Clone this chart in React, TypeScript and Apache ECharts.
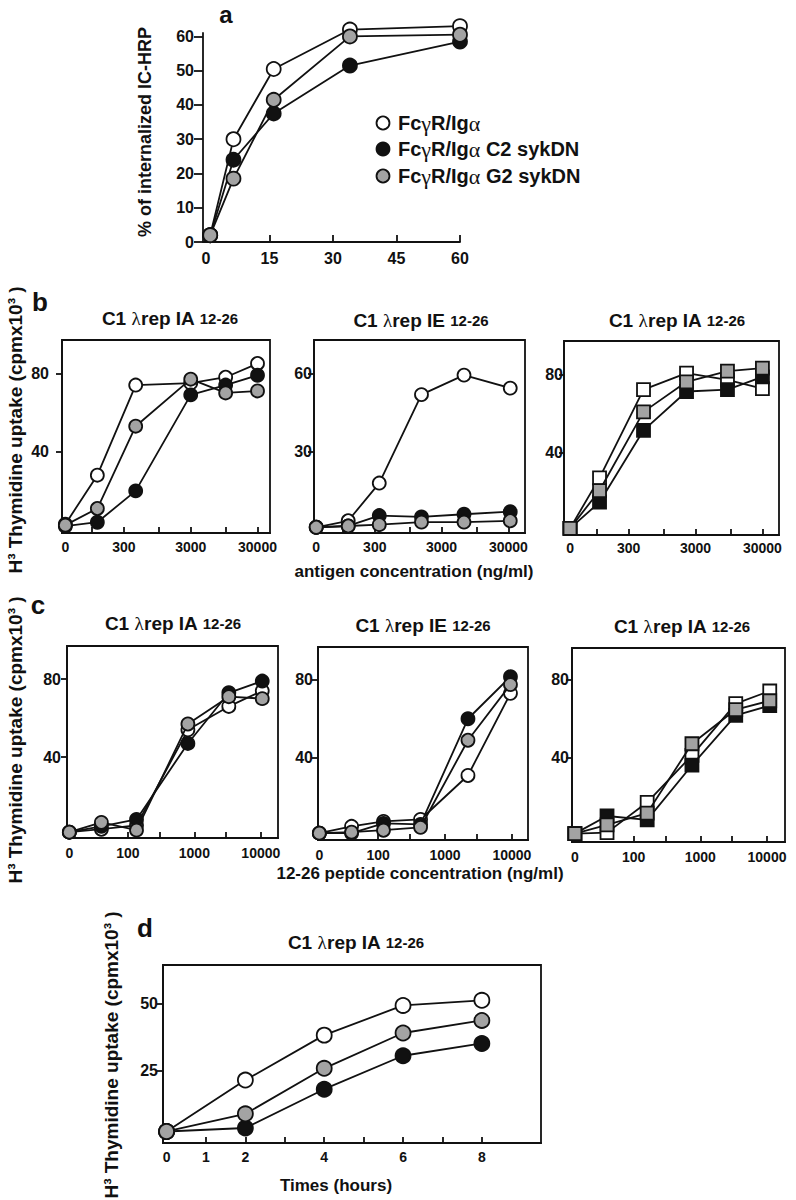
import React, { useEffect, useRef } from 'react';
import * as echarts from 'echarts';

const FONT = '"Liberation Sans", Arial, Helvetica, sans-serif';
const SERIF = '"Liberation Serif", "DejaVu Serif", serif';
const INK = '#111111';
const WHITE = '#ffffff';
const GREY = '#a3a3a3';

// ---- panel a : internalisation (minutes) ----
const A_MINUTES = [1, 6.5, 16, 34, 60];
const A_WT = [2, 30, 50.5, 62, 63];
const A_C2 = [2, 24, 37.5, 51.5, 58.5];
const A_G2 = [2, 18.5, 41.5, 60, 60.5];
const A_X_TICKS = [15, 30, 45, 60];
const A_X_LABELS = [0, 15, 30, 45, 60];
const A_Y_LABELS = [0, 10, 20, 30, 40, 50, 60];

// ---- panel b : antigen concentration (ng/ml) ----
const B1_CONC = [0, 120, 450, 3000, 10000, 30000];
const B1_WT = [3, 28, 74, 75, 78, 85];
const B1_C2 = [2, 4, 20, 69, 74, 79];
const B1_G2 = [2.5, 11, 53, 77, 70, 71];

const B2_CONC = [0, 120, 350, 1500, 6500, 32000];
const B2_WT = [1, 3.5, 18, 52, 59.5, 54.5];
const B2_C2 = [1, 1.5, 5.5, 5, 6, 7];
const B2_G2 = [1, 1.5, 2, 3, 3, 3.5];

const B3_CONC = [0, 110, 500, 2200, 9000, 30000];
const B3_WT = [1, 27, 72.5, 81, 77.5, 73];
const B3_C2 = [1, 14.5, 51.5, 71.5, 72.5, 79];
const B3_G2 = [1, 20.5, 61, 76.5, 82, 83.5];

const B_X_TICKS = [100, 300, 1000, 3000, 10000, 30000];
const B_X_LABELS = [0, 300, 3000, 30000];
const B_IA_Y = [40, 80];
const B_IE_Y = [30, 60];

// ---- panel c : 12-26 peptide concentration (ng/ml) ----
const C1_CONC = [0, 40, 135, 800, 3300, 10500];
const C1_WT = [1.5, 3, 5, 54, 66, 74];
const C1_C2 = [1.5, 4.5, 8, 47, 73, 79];
const C1_G2 = [1.5, 6.5, 2.5, 57, 71, 70];

const C2_CONC = [0, 40, 120, 430, 2200, 9500];
const C2_WT = [1.5, 5, 7.5, 8.5, 31, 73];
const C2_C2 = [1.5, 1.5, 6.5, 6, 60, 81.5];
const C2_G2 = [1.5, 2, 3, 4.5, 49, 77.5];

const C3_CONC = [0, 40, 160, 750, 3400, 11000];
const C3_WT = [1, 1.5, 17, 41, 67.5, 74];
const C3_C2 = [1, 10, 8, 36, 61.5, 66.5];
const C3_G2 = [1, 5.5, 11.5, 47, 64.5, 69];

const C_X_TICKS = [100, 300, 1000, 3000, 10000];
const C_X_LABELS = [0, 100, 1000, 10000];
const C_Y = [40, 80];

// ---- panel d : time course (hours) ----
const D_HOURS = [0, 2, 4, 6, 8];
const D_WT = [2.3, 21.5, 38.3, 49.4, 51.3];
const D_C2 = [2.3, 3.6, 18.1, 30.6, 35.2];
const D_G2 = [2.3, 8.9, 25.9, 39.1, 43.8];
const D_X_TICKS = [1, 2, 3, 4, 5, 6, 7, 8];
const D_X_LABELS = [0, 1, 2, 4, 6, 8];
const D_Y = [25, 50];

// where the "0" concentration sits on the log axes
const ZERO_B = 1.6;
const ZERO_C = 1.12;

const LW = 1.8;
const AXIS_LINE = { show: true, onZero: false, lineStyle: { color: INK, width: LW } };
const TICK_STYLE = { color: INK, width: LW };

function labelFont(size: number) {
  return { color: INK, fontSize: size, fontWeight: 'bold', fontFamily: FONT };
}

function logX(gi: number, min: number, max: number, zero: number, ticks: number[], labels: number[], margin: number) {
  const pos = (c: number) => (c === 0 ? zero : Math.log10(c));
  const labelPos = labels.map(pos);
  return {
    type: 'value', gridIndex: gi, min, max,
    axisLine: AXIS_LINE,
    axisTick: { show: true, inside: true, length: 6, customValues: ticks.map(pos), lineStyle: TICK_STYLE },
    axisLabel: {
      customValues: labelPos,
      formatter: (v: number) => {
        const i = labelPos.findIndex((p) => Math.abs(p - v) < 1e-6);
        return i >= 0 ? String(labels[i]) : '';
      },
      margin, ...labelFont(14),
    },
    splitLine: { show: false },
  };
}

function linX(gi: number, min: number, max: number, ticks: number[], labels: number[], margin: number, tickLen: number, size: number) {
  return {
    type: 'value', gridIndex: gi, min, max,
    axisLine: AXIS_LINE,
    axisTick: { show: true, inside: true, length: tickLen, customValues: ticks, lineStyle: TICK_STYLE },
    axisLabel: { customValues: labels, margin, ...labelFont(size) },
    splitLine: { show: false },
  };
}

function yAx(gi: number, min: number, max: number, ticks: number[], margin: number, tickLen: number, size: number) {
  return {
    type: 'value', gridIndex: gi, min, max,
    axisLine: AXIS_LINE,
    axisTick: { show: true, inside: false, length: tickLen, customValues: ticks, lineStyle: TICK_STYLE },
    axisLabel: { customValues: ticks, margin, ...labelFont(size) },
    splitLine: { show: false },
  };
}

function trio(gi: number, xs: number[], groups: number[][], symbol: string, size: number, zero?: number) {
  const fills = [WHITE, INK, GREY];
  const names = ['FcγR/Igα', 'FcγR/Igα C2 sykDN', 'FcγR/Igα G2 sykDN'];
  const px = xs.map((c) => (zero === undefined ? c : c === 0 ? zero : Math.log10(c)));
  return groups.map((ys, k) => ({
    type: 'line', name: names[k], xAxisIndex: gi, yAxisIndex: gi,
    data: px.map((x, i) => [x, ys[i]]),
    symbol, symbolSize: size, showSymbol: true, silent: true, clip: false,
    lineStyle: { color: INK, width: LW },
    itemStyle: { color: fills[k], borderColor: INK, borderWidth: LW },
    emphasis: { disabled: true },
    z: 3 + k,
  }));
}

function txt(x: number, y: number, text: string, size: number, opts: any = {}) {
  const align = opts.align || 'center';
  return {
    type: 'text', x, y, rotation: opts.rot || 0, silent: true,
    style: {
      text, fill: INK, fontSize: size, fontWeight: opts.weight || 'bold', fontFamily: FONT,
      align, textAlign: align, verticalAlign: 'middle', textVerticalAlign: 'middle',
      rich: opts.rich,
    },
  };
}

const TITLE_RICH = {
  m: { fontSize: 19, fontWeight: 'bold', fontFamily: FONT },
  l: { fontSize: 19, fontWeight: 'normal', fontFamily: SERIF },
  s: { fontSize: 15, fontWeight: 'bold', fontFamily: FONT },
};
function title(x: number, y: number, mhc: string) {
  return txt(x, y, `{m|C1 }{l|λ}{m|rep ${mhc} }{s|12-26}`, 19, { rich: TITLE_RICH });
}

const LEG_RICH = {
  b: { fontSize: 20, fontWeight: 'bold', fontFamily: FONT },
  g: { fontSize: 22, fontWeight: 'normal', fontFamily: SERIF },
};

function buildOption() {
  const grids = [
    { left: 203, top: 33, width: 257, height: 209, show: false },
    { left: 62, top: 340, width: 208, height: 193, show: true },
    { left: 314, top: 340, width: 211, height: 193, show: true },
    { left: 564, top: 341, width: 215, height: 194, show: true },
    { left: 67, top: 646, width: 211, height: 192, show: true },
    { left: 318, top: 647, width: 210, height: 193, show: true },
    { left: 572, top: 648, width: 213, height: 194, show: true },
    { left: 163, top: 965, width: 378, height: 178, show: true },
  ].map((g) => ({ ...g, borderColor: INK, borderWidth: LW, backgroundColor: 'transparent', containLabel: false }));

  const xAxis = [
    linX(0, -0.7, 60, A_X_TICKS, A_X_LABELS, 8, 7, 16),
    logX(1, 1.55, 4.664, ZERO_B, B_X_TICKS, B_X_LABELS, 7),
    logX(2, 1.567, 4.726, ZERO_B, B_X_TICKS, B_X_LABELS, 7),
    logX(3, 1.51, 4.725, ZERO_B, B_X_TICKS, B_X_LABELS, 6),
    logX(4, 1.085, 4.258, ZERO_C, C_X_TICKS, C_X_LABELS, 8),
    logX(5, 1.1, 4.24, ZERO_C, C_X_TICKS, C_X_LABELS, 8),
    logX(6, 1.077, 4.27, ZERO_C, C_X_TICKS, C_X_LABELS, 8),
    linX(7, -0.09, 9.5, D_X_TICKS, D_X_LABELS, 7, 6, 14),
  ];
  const yAxis = [
    yAx(0, 0, 61, A_Y_LABELS, 9, 9, 16),
    yAx(1, -1.5, 97, B_IA_Y, 13, 6, 16),
    yAx(2, -1.2, 73, B_IE_Y, 2, 6, 16),
    yAx(3, -2.4, 97.5, B_IA_Y, 1, 5, 16),
    yAx(4, -1.5, 97, C_Y, 6, 6, 16),
    yAx(5, -2, 96.7, C_Y, 5, 6, 16),
    yAx(6, -3.3, 96, C_Y, 3, 6, 16),
    yAx(7, -2, 64.5, D_Y, 5, 6, 16),
  ];

  const series = [
    ...trio(0, A_MINUTES, [A_WT, A_C2, A_G2], 'circle', 14),
    ...trio(1, B1_CONC, [B1_WT, B1_C2, B1_G2], 'circle', 13, ZERO_B),
    ...trio(2, B2_CONC, [B2_WT, B2_C2, B2_G2], 'circle', 13, ZERO_B),
    ...trio(3, B3_CONC, [B3_WT, B3_C2, B3_G2], 'rect', 13, ZERO_B),
    ...trio(4, C1_CONC, [C1_WT, C1_C2, C1_G2], 'circle', 13, ZERO_C),
    ...trio(5, C2_CONC, [C2_WT, C2_C2, C2_G2], 'circle', 13, ZERO_C),
    ...trio(6, C3_CONC, [C3_WT, C3_C2, C3_G2], 'rect', 13, ZERO_C),
    ...trio(7, D_HOURS, [D_WT, D_C2, D_G2], 'circle', 15),
  ];

  const legendY = [123, 149, 176];
  const legendFill = [WHITE, INK, GREY];
  const legendText = [
    '{b|Fc}{g|γ}{b|R/Ig}{g|α}',
    '{b|Fc}{g|γ}{b|R/Ig}{g|α}{b| C2 sykDN}',
    '{b|Fc}{g|γ}{b|R/Ig}{g|α}{b| G2 sykDN}',
  ];

  const graphic = [
    // panel letters
    txt(226, 14, 'a', 24),
    txt(40, 302, 'b', 26),
    txt(38, 605, 'c', 26),
    txt(145, 928, 'd', 26),
    // panel titles
    title(170, 318, 'IA'),
    title(421, 320, 'IE'),
    title(677, 320, 'IA'),
    title(173, 623, 'IA'),
    title(423, 625, 'IE'),
    title(682, 626, 'IA'),
    title(356, 942, 'IA'),
    // axis names
    txt(145, 132, '% of internalized IC-HRP', 18, { rot: Math.PI / 2 }),
    txt(15, 430, 'H³ Thymidine uptake (cpmx10³ )', 19, { rot: Math.PI / 2 }),
    txt(15, 740, 'H³ Thymidine uptake (cpmx10³ )', 19, { rot: Math.PI / 2 }),
    txt(111, 1055, 'H³ Thymidine uptake (cpmx10³ )', 19, { rot: Math.PI / 2 }),
    txt(414, 571, 'antigen concentration (ng/ml)', 17),
    txt(420, 873, '12-26 peptide concentration (ng/ml)', 17),
    txt(336, 1185, 'Times (hours)', 17),
    // legend of panel a
    ...legendY.map((y, i) => ({
      type: 'circle', silent: true, shape: { cx: 383, cy: y, r: 6.5 },
      style: { fill: legendFill[i], stroke: INK, lineWidth: LW },
    })),
    ...legendY.map((y, i) => txt(398, y, legendText[i], 20, { align: 'left', rich: LEG_RICH })),
  ];

  return {
    animation: false,
    backgroundColor: '#ffffff',
    grid: grids,
    xAxis,
    yAxis,
    series,
    graphic,
  };
}

export default function App() {
  const ref = useRef<HTMLDivElement>(null);
  useEffect(() => {
    document.body.style.margin = '0';
    const chart = echarts.init(ref.current as HTMLDivElement, null, { renderer: 'svg', width: 796, height: 1200 });
    chart.setOption(buildOption() as any);
    return () => chart.dispose();
  }, []);
  return <div ref={ref} style={{ width: 796, height: 1200, background: '#fff' }} />;
}
